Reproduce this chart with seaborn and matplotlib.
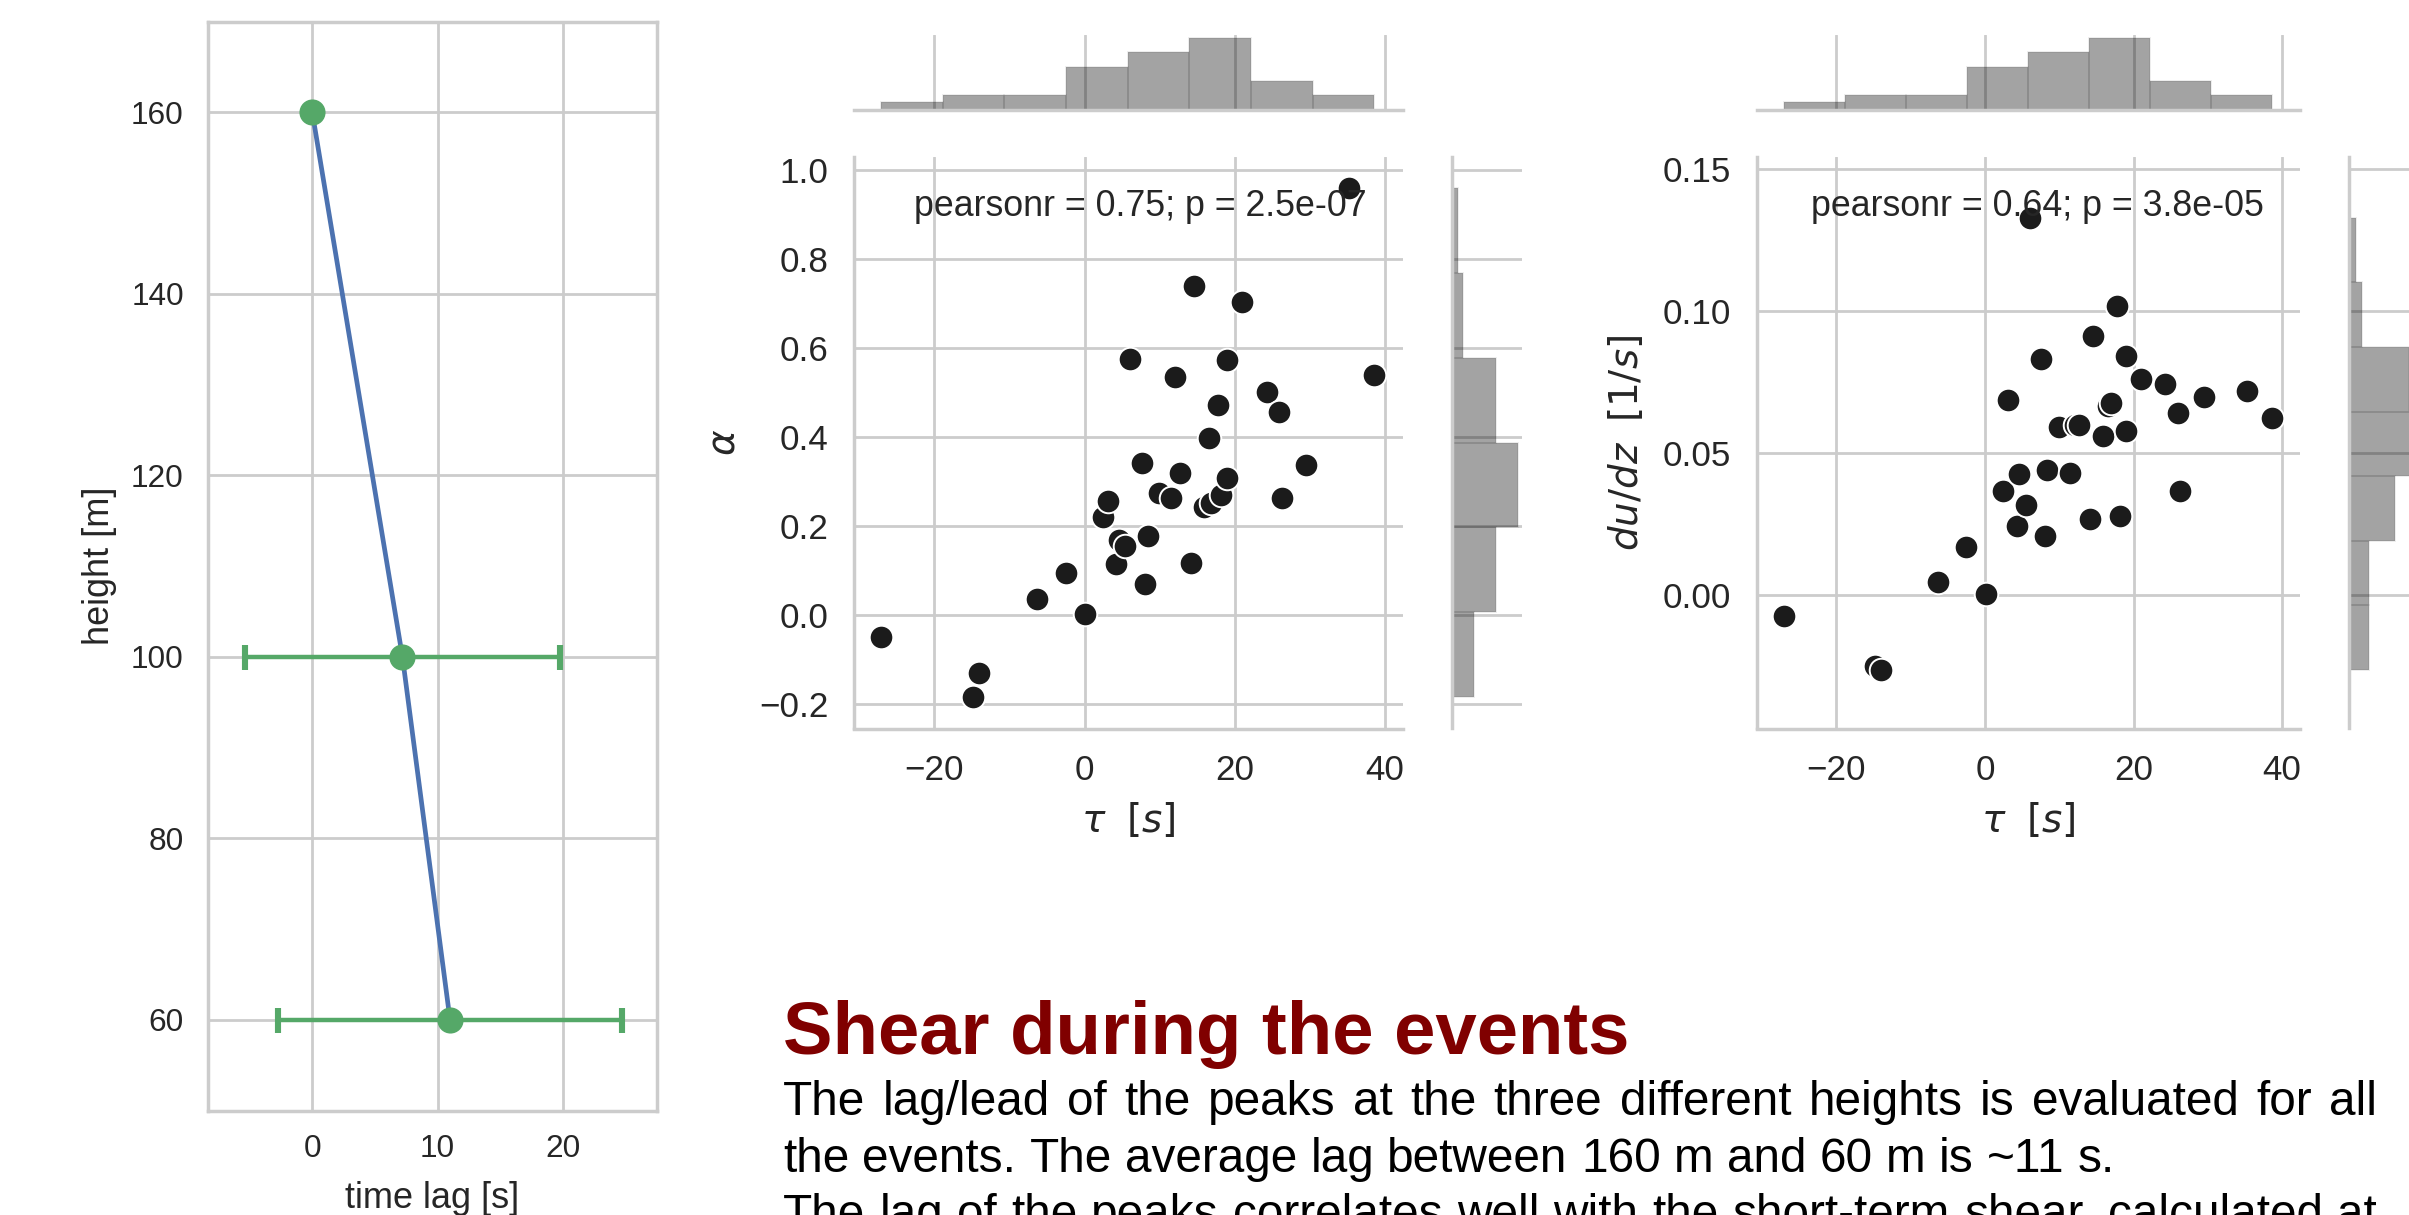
import numpy as np
import matplotlib
matplotlib.use("Agg")
import matplotlib.pyplot as plt
import seaborn as sns

# ---------------------------------------------------------------- data
# mean lag of the peak at each measurement height, with its spread
heights = [160, 100, 60]
lag_mean = [0.0, 7.2, 11.0]
lag_std = [0.0, 12.6, 13.7]

# per-event lag of the peak between 160 m and 60 m
tau = [-27.1, -14.8, -14.05, -6.3, -2.5, 0.1, 2.45, 3.15, 4.25, 4.6, 5.45,
       6.1, 7.6, 8.1, 8.4, 9.9, 11.45, 12.1, 12.7, 14.15, 14.6, 15.9, 16.6,
       16.9, 17.8, 18.2, 19.0, 18.95, 21.0, 24.25, 25.95, 26.3, 29.45, 35.2,
       38.6]
# shear exponent of each event
alpha = [-0.049, -0.185, -0.131, 0.036, 0.094, 0.001, 0.219, 0.255, 0.113,
         0.167, 0.155, 0.575, 0.341, 0.069, 0.176, 0.274, 0.262, 0.535,
         0.318, 0.116, 0.738, 0.243, 0.398, 0.252, 0.471, 0.268, 0.572,
         0.308, 0.703, 0.501, 0.456, 0.262, 0.337, 0.959, 0.538]
# short-term shear du/dz of each event [1/s]
dudz = [-0.0075, -0.0252, -0.0266, 0.0046, 0.0168, 0.0002, 0.0365, 0.0686,
        0.0243, 0.0424, 0.0315, 0.1330, 0.0833, 0.0206, 0.0440, 0.0592,
        0.0430, 0.0600, 0.0598, 0.0268, 0.0913, 0.0560, 0.0665, 0.0675,
        0.1020, 0.0279, 0.0843, 0.0577, 0.0762, 0.0743, 0.0640, 0.0365,
        0.0696, 0.0720, 0.0623]

stat_alpha = "pearsonr = 0.75; p = 2.5e-07"
stat_dudz = "pearsonr = 0.64; p = 3.8e-05"

title = "Shear during the events"
body = [
    "The lag/lead of the peaks at the three different heights is evaluated for all",
    "the events. The average lag between 160 m and 60 m is ~11 s.",
    "The lag of the peaks correlates well with the short-term shear, calculated at",
]

# ---------------------------------------------------------------- style
sns.set_theme(style="whitegrid")
plt.rcParams["font.family"] = ["Liberation Sans", "DejaVu Sans"]
plt.rcParams["mathtext.fontset"] = "dejavusans"
GRID = "#cccccc"
plt.rcParams.update({
    "axes.edgecolor": GRID, "grid.color": GRID,
    "axes.linewidth": 1.25, "grid.linewidth": 1.0,
    "text.color": "#262626", "axes.labelcolor": "#262626",
    "xtick.color": "#262626", "ytick.color": "#262626",
})

W, H, DPI = 2409, 1215, 200
fig = plt.figure(figsize=(W / DPI, H / DPI), dpi=DPI)


def box(x0, y0, x1, y1):
    """Axes rectangle from pixel edges (origin top-left)."""
    return [x0 / W, 1 - y1 / H, (x1 - x0) / W, (y1 - y0) / H]


BLUE = "#4C72B0"
GREEN = "#55A868"
DOT = "#1b1b1b"

# ---------------------------------------------------------------- lag profile
ax0 = fig.add_axes(box(207.7, 21.7, 657.3, 1110.5))
sns.lineplot(x=lag_mean, y=heights, sort=False, color=BLUE, lw=1.7,
             ax=ax0, zorder=2)
has_err = [s > 0 for s in lag_std]
ax0.errorbar([m for m, e in zip(lag_mean, has_err) if e],
             [h for h, e in zip(heights, has_err) if e],
             xerr=[s for s, e in zip(lag_std, has_err) if e],
             fmt="none", ecolor=GREEN, elinewidth=1.6, capsize=4.5,
             capthick=2.2, zorder=3)
ax0.plot(lag_mean, heights, "o", color=GREEN, ms=8.4, zorder=4)
ax0.set_xlim(-8.35, 27.55)
ax0.set_ylim(50, 170)
ax0.set_xticks([0, 10, 20])
ax0.set_yticks([60, 80, 100, 120, 140, 160])
ax0.tick_params(length=0, pad=8.6, labelsize=11.4)
ax0.set_xlabel("time lag [s]", fontsize=13, labelpad=6)
ax0.set_ylabel("height [m]", fontsize=13, labelpad=5)
for s in ax0.spines.values():
    s.set_visible(True)
    s.set_color(GRID)
    s.set_linewidth(1.25)


# ---------------------------------------------------------------- joint plots
def joint(xl, xr, yvals, bins_y, ylim, yticks, ylabel, ylabelpad, stat, stat_x):
    top, bottom = 157.0, 728.5
    ax = fig.add_axes(box(xl, top, xr, bottom))
    axt = fig.add_axes(box(xl, 34.5, xr, 109.5), sharex=ax)
    axr = fig.add_axes(box(xr + 49, top, xr + 118.7, bottom), sharey=ax)

    sns.scatterplot(x=tau, y=yvals, ax=ax, color=DOT, s=72,
                    edgecolor="white", linewidth=0.7, zorder=3)
    hist_kw = dict(color="black", alpha=0.36, edgecolor=(0, 0, 0, 0.07),
                   linewidth=0.7, stat="count")
    sns.histplot(x=tau, bins=8, ax=axt, **hist_kw)
    sns.histplot(y=yvals, bins=bins_y, ax=axr, **hist_kw)

    ax.set_xlim(-30.7, 42.4)
    ax.set_ylim(*ylim)
    ax.set_xticks([-20, 0, 20, 40])
    ax.set_yticks(yticks)
    ax.tick_params(length=0, pad=9.2, labelsize=12.6)
    ax.set_xlabel(r"$\tau$  $[s]$", fontsize=14, labelpad=5)
    ax.set_ylabel(ylabel, fontsize=14, labelpad=ylabelpad)
    for side in ("top", "right"):
        ax.spines[side].set_visible(False)
    ax.text(stat_x, 0.896, stat, transform=ax.transAxes, ha="center",
            va="baseline", fontsize=12.9, color="#262626", zorder=5)

    axt.yaxis.grid(False)
    axr.xaxis.grid(False)
    for a in (axt, axr):
        a.set_xlabel("")
        a.set_ylabel("")
        a.tick_params(length=0, labelbottom=False, labelleft=False)
    for side in ("top", "right", "left"):
        axt.spines[side].set_visible(False)
    for side in ("top", "right", "bottom"):
        axr.spines[side].set_visible(False)
    return ax


joint(854.0, 1403.0, alpha, 6, (-0.2554, 1.0283),
      [-0.2, 0.0, 0.2, 0.4, 0.6, 0.8, 1.0], r"$\alpha$", 6,
      stat_alpha, 0.522)
joint(1757.0, 2300.0, dudz, 7, (-0.0472, 0.1544),
      [0.00, 0.05, 0.10, 0.15], r"$du/dz$  $[1/s]$", 6,
      stat_dudz, 0.517)

# ---------------------------------------------------------------- text block
X0 = 783.0
fig.text(X0 / W, 1 - 1054.3 / H, title, fontsize=26.8, fontweight="bold",
         color="#800000", va="baseline", ha="left")

renderer = fig.canvas.get_renderer()
BODY_SIZE = 17.2


def text_width(s):
    t = fig.text(0, 0, s, fontsize=BODY_SIZE)
    w = t.get_window_extent(renderer).width
    t.remove()
    return w


# right end of each line and its baseline (pixels)
line_right = [2377.0, 2114.5, 2377.0]
baselines = [1115.0, 1171.7, 1228.4]
for line, xr, yb in zip(body, line_right, baselines):
    # spread the words evenly between the margins
    words = line.split(" ")
    widths = [text_width(w) for w in words]
    gap = (xr - X0 - sum(widths)) / (len(words) - 1)
    x = X0
    for w, wd in zip(words, widths):
        fig.text(x / W, 1 - yb / H, w, fontsize=BODY_SIZE, color="black",
                 va="baseline", ha="left")
        x += wd + gap

fig.savefig("out.png", dpi=DPI)
